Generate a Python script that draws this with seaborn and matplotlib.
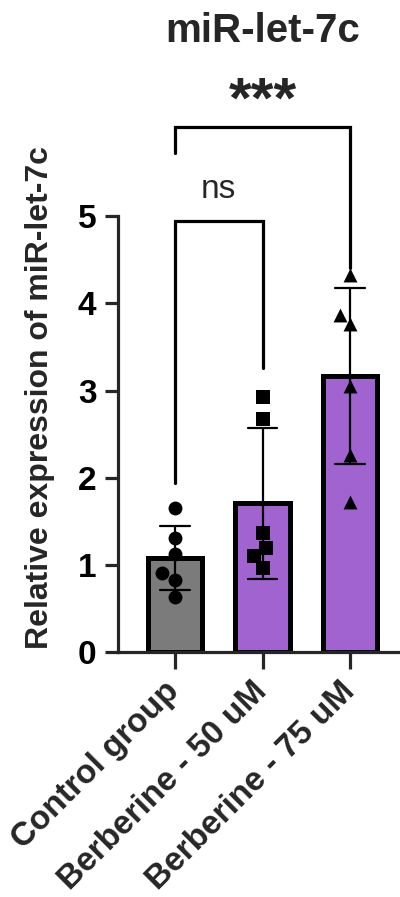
import pandas as pd
import seaborn as sns
import matplotlib.pyplot as plt

# values
GROUPS = ["Control group", "Berberine - 50 uM", "Berberine - 75 uM"]
CONTROL = [1.65, 1.31, 1.12, 0.91, 0.83, 0.63]
BERB_50 = [2.93, 2.67, 1.37, 1.19, 1.10, 0.97]
BERB_75 = [4.33, 3.87, 3.76, 3.05, 2.26, 1.72]
BAR_COLORS = ["#7b7b7b", "#a163d0", "#a163d0"]
MARKERS = ["o", "s", "^"]
Y_TICKS = [0, 1, 2, 3, 4, 5]
TITLE = "miR-let-7c"
Y_LABEL = "Relative expression of miR-let-7c"


def build_frame():
    rows = []
    for group, vals in zip(GROUPS, [CONTROL, BERB_50, BERB_75]):
        for v in vals:
            rows.append({"group": group, "value": v})
    return pd.DataFrame(rows)


def bracket(ax, x1, x2, y_top, y1_end, y2_end, label, label_y, **text_kw):
    ax.plot([x1, x1, x2, x2], [y1_end, y_top, y_top, y2_end],
            color="black", lw=2.3, clip_on=False, solid_joinstyle="miter")
    ax.text((x1 + x2) / 2, label_y, label, ha="center", va="center",
            clip_on=False, **text_kw)


if __name__ == "__main__":
    sns.set_style("ticks")
    plt.rcParams["font.family"] = ["Liberation Sans", "DejaVu Sans"]

    df = build_frame()

    fig = plt.figure(figsize=(4.0, 8.97), dpi=100)
    ax = fig.add_axes([0.295, 0.273, 0.705, 0.486])

    sns.barplot(data=df, x="group", y="value", order=GROUPS, hue="group",
                palette=BAR_COLORS, saturation=1, legend=False, errorbar="sd",
                capsize=0.34, width=0.62, edgecolor="black", linewidth=3.6,
                err_kws={"color": "black", "linewidth": 1.6}, ax=ax)

    for group, marker in zip(GROUPS, MARKERS):
        sub = df[df["group"] == group]
        sns.swarmplot(data=sub, x="group", y="value", order=GROUPS,
                      color="black", marker=marker, size=10, ax=ax)

    ax.set_xlim(-0.65, 2.57)
    ax.set_ylim(0, 5)
    ax.set_yticks(Y_TICKS)
    ax.set_xlabel("")
    ax.set_ylabel(Y_LABEL, fontsize=23, fontweight="bold")
    ax.yaxis.set_label_coords(-0.225, 0.585)

    sns.despine(ax=ax)
    for side in ["left", "bottom"]:
        ax.spines[side].set_linewidth(2.3)
    ax.tick_params(axis="y", length=9.5, width=2.3, pad=6,
                   labelsize=24, labelcolor="black")
    ax.tick_params(axis="x", length=12, width=2.3, pad=13, labelsize=24)
    for lbl in ax.get_yticklabels():
        lbl.set_fontweight("bold")
    ax.set_xticks(range(len(GROUPS)))
    ax.set_xticklabels(GROUPS, rotation=45, ha="right", va="center",
                       rotation_mode="anchor", fontweight="bold")

    bracket(ax, 0, 1, 4.94, 1.94, 3.26, "ns", 5.31, fontsize=24)
    bracket(ax, 0, 2, 6.02, 5.72, 4.41, "***", 6.30,
            fontsize=42, fontweight="bold")

    fig.text(0.657, 0.965, TITLE, ha="center", va="center",
             fontsize=29, fontweight="bold")

    fig.savefig("out.png", dpi=100)
